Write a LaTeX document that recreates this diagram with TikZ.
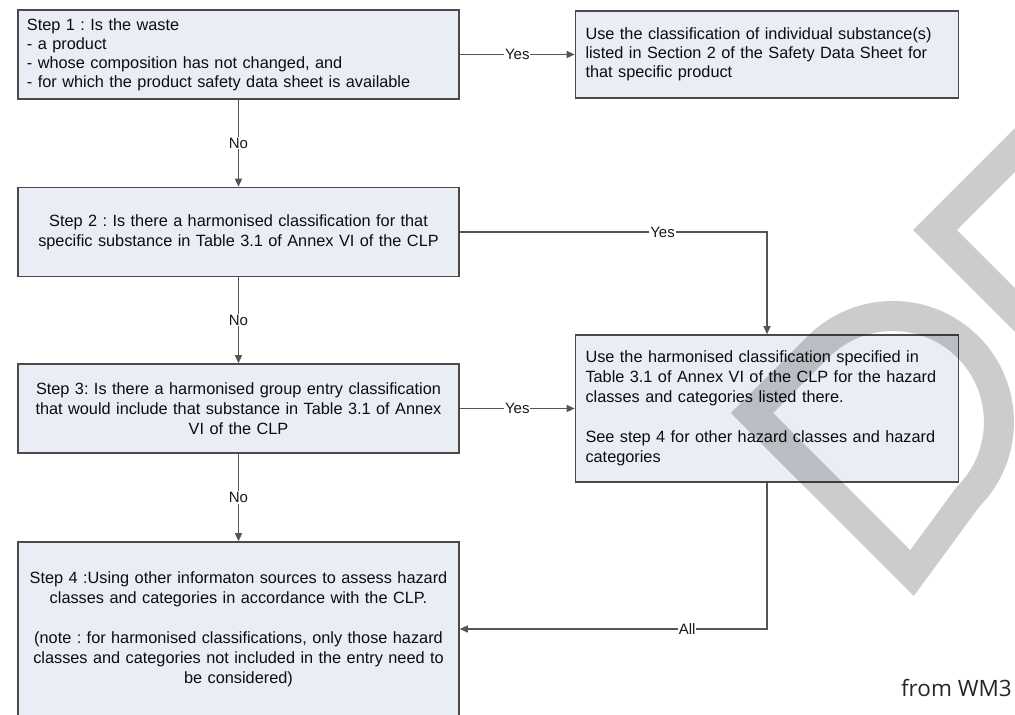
\documentclass[tikz,border=0pt]{standalone}
\usepackage{fontspec}
\setmainfont{Liberation Sans}
\newfontfamily\srcfont{Open Sans}
\usetikzlibrary{arrows.meta}
\definecolor{boxfill}{HTML}{E9EDF6}
\definecolor{boxline}{HTML}{4A4A4A}
\definecolor{lineg}{HTML}{555555}
\frenchspacing

\begin{document}
\begin{tikzpicture}[x=1pt,y=-1pt,
        >={Triangle[length=8pt,width=7pt]},
        box/.style={rectangle,draw=boxline,fill=boxfill,line width=1.6pt,text=black!95,
                    inner xsep=10pt,inner ysep=0pt,font=\fontsize{16.3}{20}\selectfont},
        lbox/.style={box,text width=421pt,minimum height=89pt},
        rbox/.style={box,text width=363pt},
        lab/.style={fill=white,inner sep=1pt,text=black!90,font=\fontsize{15}{18}\selectfont},
        conn/.style={->,draw=lineg,line width=1.3pt}]
      \fill[white](0,0)rectangle(1015,715);
      \useasboundingbox(0,0)rectangle(1015,715);
      \node[lbox,align=left,inner xsep=9pt,text width=423pt,font=\fontsize{16.3}{19}\selectfont](s1) at(238.5,54.5){Step 1 : Is the waste\\- a product\\- whose composition has not changed, and\\- for which the product safety data sheet is available};
      \node[rbox,align=left,minimum height=87pt,font=\fontsize{16.3}{19}\selectfont](r1) at(767,54.5){Use the classification of individual substance(s)\\listed in Section 2 of the Safety Data Sheet for\\that specific product};
      \node[lbox,align=center](s2) at(238.5,232){Step 2 : Is there a harmonised classification for that\\specific substance in Table 3.1 of Annex VI of the CLP};
      \node[lbox,align=center](s3) at(238.5,408.5){Step 3: Is there a harmonised group entry classification\\that would include that substance in Table 3.1 of Annex\\VI of the CLP};
      \node[rbox,align=left,minimum height=147pt](r2) at(767,408.5){Use the harmonised classification specified in\\Table 3.1 of Annex VI of the CLP for the hazard\\classes and categories listed there.\\[20pt]See step 4 for other hazard classes and hazard\\categories};
      \node[lbox,align=center,minimum height=174pt](s4) at(238.5,629){Step 4 :Using other informaton sources to assess hazard\\classes and categories in accordance with the CLP.\\[20pt](note : for harmonised classifications, only those hazard\\classes and categories not included in the entry need to\\be considered)};
      \draw[conn](s1)--node[lab]{Yes}(r1);
      \draw[conn](s1)--node[lab]{No}(s2);
      \draw[conn](s2)-|node[lab,pos=0.33]{Yes}(r2);
      \draw[conn](s2)--node[lab]{No}(s3);
      \draw[conn](s3)--node[lab]{Yes}(r2);
      \draw[conn](s3)--node[lab]{No}(s4);
      \draw[conn](r2)|-node[lab,pos=0.63]{All}(s4);
      \begin{scope}[opacity=0.2]
        \draw[line width=31pt,miter limit=10](1040,125)--(935,230)--(1040,335);
        \draw[line width=30pt,miter limit=10](752,413)--(818,347)arc[start angle=-135,end angle=45,radius=106]--(912,573)--cycle;
      \end{scope}
      \node[font=\srcfont\fontsize{22.5}{26}\selectfont,text=black!85,anchor=south east,inner sep=0pt](src) at(1012,697){from WM3};
    \end{tikzpicture}
\end{document}
